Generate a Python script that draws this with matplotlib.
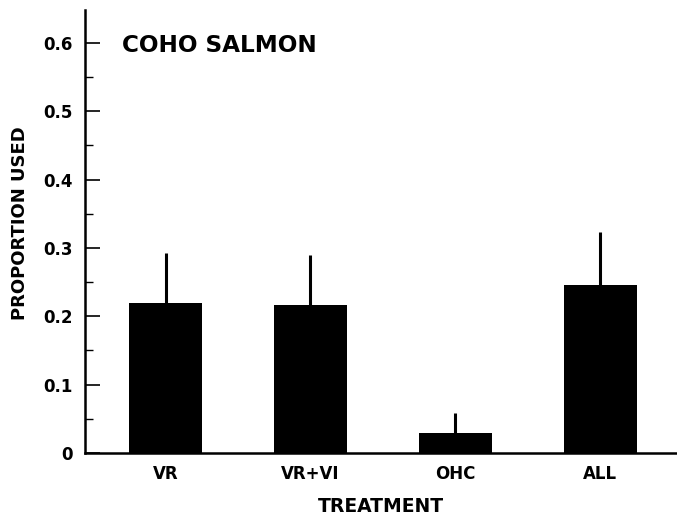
import numpy as np
import matplotlib
matplotlib.use("Agg")
import matplotlib.pyplot as plt
from matplotlib.ticker import MultipleLocator

# values
treatments = ["VR", "VR+VI", "OHC", "ALL"]
proportion = [0.219, 0.217, 0.029, 0.246]
err_upper = [0.073, 0.073, 0.030, 0.077]

plt.rcParams['font.family'] = ['DejaVu Sans']
plt.rcParams['font.weight'] = 'bold'

fig = plt.figure(figsize=(6.77, 5.17), dpi=100)
ax = fig.add_axes([0.1256, 0.1238, 0.8744, 0.8569])

x = np.arange(len(treatments))
ax.bar(x, proportion, width=0.505, color='black', zorder=2)
ax.errorbar(x, proportion, yerr=[np.zeros(len(x)), err_upper], fmt='none',
            ecolor='black', elinewidth=2.2, capsize=0, zorder=1)

ax.set_xlim(-0.556, 3.53)
ax.set_ylim(0, 0.648)

ax.spines['top'].set_visible(False)
ax.spines['right'].set_visible(False)
ax.spines['left'].set_linewidth(1.8)
ax.spines['bottom'].set_linewidth(1.8)

ax.yaxis.set_minor_locator(MultipleLocator(0.05))
ax.set_yticks([0, 0.1, 0.2, 0.3, 0.4, 0.5, 0.6])
ax.set_yticklabels(["0", "0.1", "0.2", "0.3", "0.4", "0.5", "0.6"])
ax.tick_params(axis='y', which='major', direction='in', length=11, width=1.2,
               labelsize=12, pad=9)
ax.tick_params(axis='y', which='minor', direction='in', length=6, width=1.0)

ax.set_xticks(x)
ax.set_xticklabels(treatments)
ax.tick_params(axis='x', length=0, labelsize=12, pad=9)

for lbl in ax.get_xticklabels() + ax.get_yticklabels():
    lbl.set_fontweight('bold')

ax.set_xlabel("TREATMENT", fontsize=13.5, fontweight='bold', labelpad=10)
ax.set_ylabel("PROPORTION USED", fontsize=13, fontweight='bold')
ax.yaxis.set_label_coords(-0.095, 0.52)

ax.text(0.0625, 0.919, "COHO SALMON", transform=ax.transAxes, fontsize=16.7,
        fontweight='bold', va='center', ha='left')

fig.savefig("out.png", dpi=100)
